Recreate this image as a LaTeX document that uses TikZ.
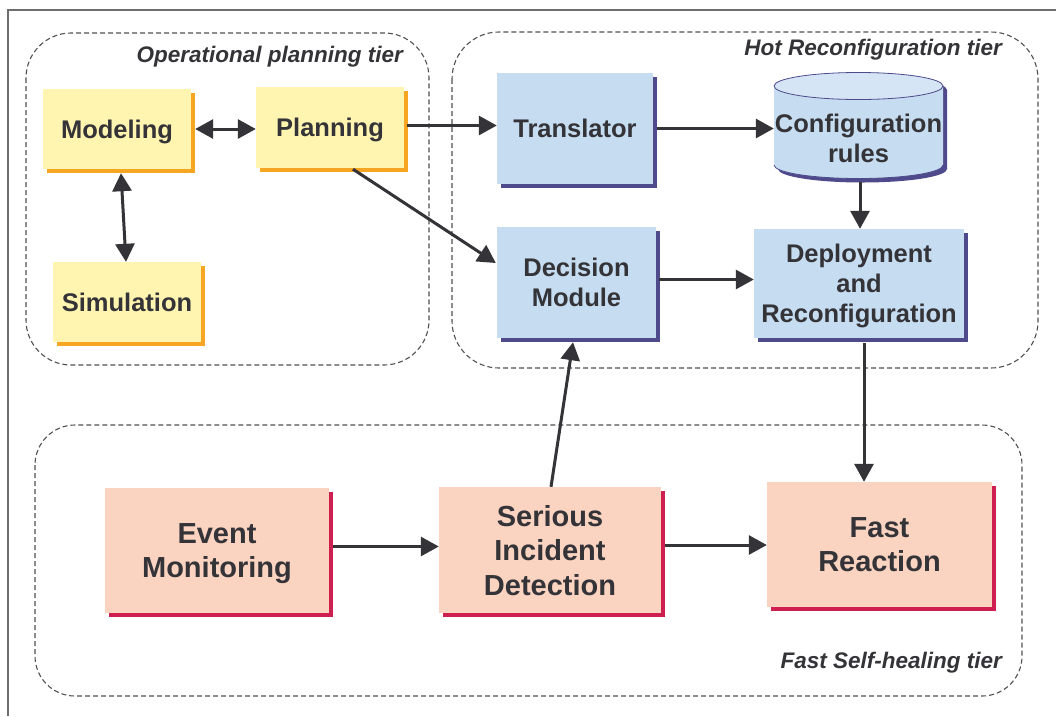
\documentclass[tikz,border=0pt]{standalone}
\usepackage{fontspec}
\setmainfont{Liberation Sans}
\usetikzlibrary{arrows.meta,shadows}

\definecolor{ink}{HTML}{333338}
\definecolor{frame}{HTML}{6E6E6E}
\definecolor{tierline}{HTML}{505050}
\definecolor{yfill}{HTML}{FFF5B0}
\definecolor{yshade}{HTML}{F6A623}
\definecolor{bfill}{HTML}{C6DCF0}
\definecolor{btop}{HTML}{D6E5F5}
\definecolor{bshade}{HTML}{4E4A8C}
\definecolor{pfill}{HTML}{FBD3C1}
\definecolor{pshade}{HTML}{CD1F50}

\begin{document}
\begin{tikzpicture}[x=1pt,y=-1pt,
  every node/.style={text=ink, align=center, inner sep=0pt},
  boxbase/.style={rectangle, text depth=0pt, font=\bfseries\fontsize{25.5}{30}\selectfont},
  ybox/.style={boxbase, fill=yfill,
    general shadow={fill=yshade, shadow xshift=4pt, shadow yshift=-4pt}},
  bbox/.style={boxbase, fill=bfill,
    general shadow={fill=bshade, shadow xshift=4pt, shadow yshift=-4pt}},
  pbox/.style={rectangle, text depth=0pt, fill=pfill, font=\bfseries\fontsize{29}{34.5}\selectfont,
    general shadow={fill=pshade, shadow xshift=4pt, shadow yshift=-4pt}},
  tier/.style={draw=tierline, line width=1.1pt, dash pattern=on 5pt off 3pt},
  tierlabel/.style={anchor=base east, font=\bfseries\itshape\fontsize{22.5}{26}\selectfont},
  tip/.style={Triangle[length=18pt,width=19pt]},
  arr/.style={draw=ink, line width=3pt, -{Triangle[length=18pt,width=19pt]}},
  dblarr/.style={draw=ink, line width=3pt,
    {Triangle[length=18pt,width=19pt]}-{Triangle[length=18pt,width=19pt]}}
]
\useasboundingbox (0,0) rectangle (1056,716);

% page frame (only its top and left edges fall inside the sheet)
\draw[frame, line width=1.5pt] (8,716) -- (8,10) -- (1056,10);

% tier frames
\draw[tier, rounded corners=45pt] (26,33) rectangle (429,365);
\draw[tier, rounded corners=47pt] (452,32) rectangle (1038,368);
\draw[tier, rounded corners=40pt] (35,425) rectangle (1022,696);

\node[tierlabel] (lop)  at (403,62)  {Operational planning tier};
\node[tierlabel] (lhot) at (1002,55) {Hot Reconfiguration tier};
\node[tierlabel] (lfast) at (1002,668) {Fast Self-healing tier};

% operational planning tier
\node[ybox, minimum width=148pt, minimum height=80pt] (mod)  at (117,129)   {Modeling};
\node[ybox, minimum width=148pt, minimum height=81pt] (plan) at (330,127.5) {Planning};
\node[ybox, minimum width=148pt, minimum height=80pt] (sim)  at (127,302)   {Simulation};

% hot reconfiguration tier
\node[bbox, minimum width=156pt, minimum height=111pt] (tr)  at (575,128.5) {Translator};
\node[bbox, minimum width=159pt, minimum height=111pt] (dec) at (576.5,282.5) {Decision\\Module};
\node[bbox, minimum width=210pt, minimum height=109pt] (dep) at (859,283.5) {Deployment\\and\\Reconfiguration};

% configuration rules store (cylinder)
\fill[bshade] (778,169) arc[start angle=180, end angle=360, x radius=84.5pt, y radius=13.5pt]
  -- (947,90) arc[start angle=0, end angle=180, x radius=84.5pt, y radius=13.5pt] -- cycle;
\fill[bfill] (774,165) arc[start angle=180, end angle=360, x radius=84.5pt, y radius=13.5pt]
  -- (943,86) arc[start angle=0, end angle=180, x radius=84.5pt, y radius=13.5pt] -- cycle;
\draw[bshade, line width=0.8pt, fill=btop] (858.5,86) ellipse [x radius=84.5pt, y radius=13.5pt];
\draw[bshade, line width=0.8pt] (774,165) arc[start angle=180, end angle=360, x radius=84.5pt, y radius=13.5pt];
\node[boxbase, minimum width=169pt, minimum height=79pt] (conf) at (858.5,138.5) {Configuration\\rules};

% fast self-healing tier
\node[pbox, minimum width=224pt, minimum height=125pt] (ev)   at (217,550.5) {Event\\Monitoring};
\node[pbox, minimum width=222pt, minimum height=126pt] (ser)  at (550,550)   {Serious\\Incident\\Detection};
\node[pbox, minimum width=225pt, minimum height=125pt] (fast) at (879.5,544.5) {Fast\\Reaction};

% connectors
\draw[dblarr] ([xshift=4pt]mod.east) -- (mod.east -| plan.west);
\draw[dblarr] ([xshift=4pt,yshift=-4pt]mod.south) -- ([xshift=-1pt]sim.north);
\draw[arr] ([xshift=3pt,yshift=2pt]plan.east) -- ([yshift=2pt]plan.east -| tr.west);
\draw[arr] ([xshift=23pt,yshift=-1pt]plan.south) -- ([xshift=-1pt,yshift=19.5pt]dec.west);
\draw[arr] ([xshift=4pt]tr.east) -- (tr.east -| conf.west);
\draw[arr] ([xshift=1.5pt,yshift=-4pt]conf.south) -- ([xshift=1pt]dep.north);
\draw[arr] ([xshift=3pt,yshift=3pt]dec.east) -- ([yshift=3pt]dec.east -| dep.west);
\draw[arr] ([xshift=5pt,yshift=-5pt]dep.south) -- ([xshift=5pt]dep.south |- fast.north);
\draw[arr] ([xshift=1pt]ser.north) -- ([xshift=-3.5pt,yshift=-4pt]dec.south);
\draw[arr] ([xshift=4pt,yshift=4pt]ev.east) -- ([yshift=4pt]ev.east -| ser.west);
\draw[arr] ([xshift=4pt,yshift=5pt]ser.east) -- ([yshift=5pt]ser.east -| fast.west);
\end{tikzpicture}
\end{document}
